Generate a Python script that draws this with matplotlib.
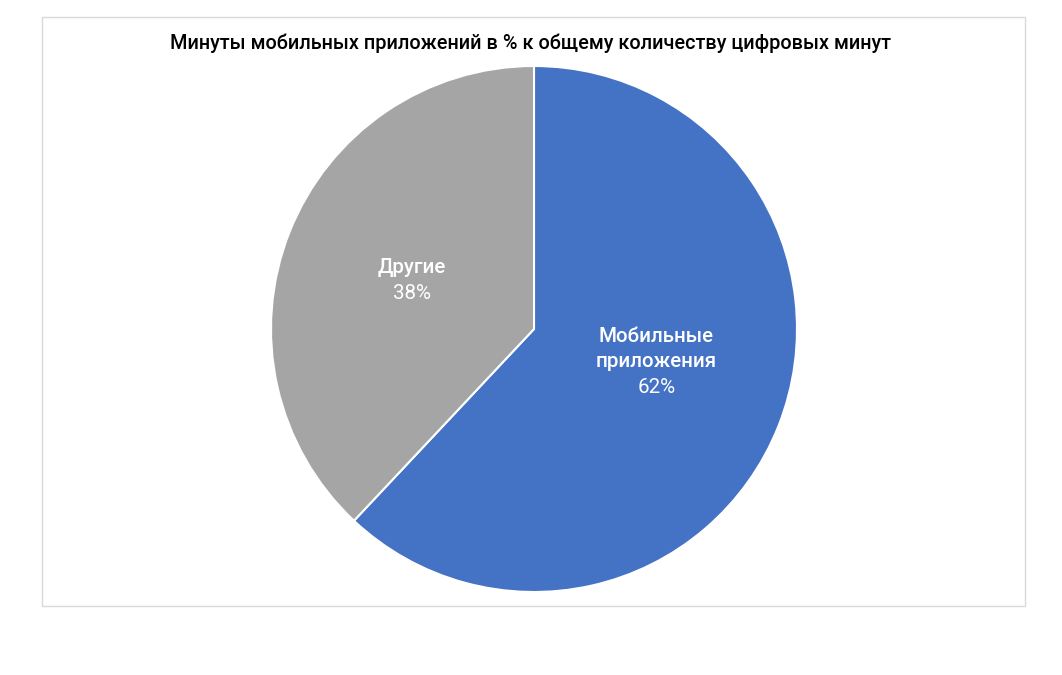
import numpy as np
import matplotlib
matplotlib.use("Agg")
import matplotlib.pyplot as plt
from matplotlib.patches import Rectangle

plt.rcParams['font.family'] = ['Roboto', 'DejaVu Sans']

title = "Минуты мобильных приложений в % к общему количеству цифровых минут"
categories = ["Мобильные\nприложения", "Другие"]
values = [62, 38]
colors = ["#4472C4", "#A5A5A5"]

W, H = 1062, 675
fig = plt.figure(figsize=(W / 100, H / 100), dpi=100)
fig.patch.set_facecolor("white")

# chart border
fig.patches.append(Rectangle((42 / W, 1 - 606 / H), (1025 - 42) / W, (606 - 17) / H,
                             transform=fig.transFigure, fill=False,
                             edgecolor="#D9D9D9", linewidth=1.0))

cx, cy, r = 534, 329, 263
ax = fig.add_axes([(cx - r) / W, (H - cy - r) / H, 2 * r / W, 2 * r / H])
wedges, _ = ax.pie(values, colors=colors, startangle=90, counterclock=False,
                   radius=1.0, wedgeprops=dict(edgecolor="white", linewidth=1.5))
ax.set_xlim(-1, 1)
ax.set_ylim(-1, 1)
ax.set_aspect("equal")
ax.axis("off")

pitch = 25.5 * 72 / 100  # line pitch in points
fs = 14.8
ls = 1.39
dy_adj = [0.06, 0.0]
for w, cat, v, dy in zip(wedges, categories, values, dy_adj):
    ang = np.deg2rad((w.theta1 + w.theta2) / 2)
    x = 0.5 * np.cos(ang)
    y = 0.5 * np.sin(ang) + dy
    n = cat.count("\n") + 2
    ax.annotate(cat, (x, y), xytext=(0, pitch / 2), textcoords="offset points",
                ha="center", va="center", color="white", fontsize=fs,
                fontweight="medium", linespacing=ls)
    ax.annotate(f"{v}%", (x, y), xytext=(0, -(n - 1) / 2 * pitch),
                textcoords="offset points", ha="center", va="center",
                color="white", fontsize=fs)

fig.text(531 / W, 1 - 43 / H, title, ha="center", va="center", fontsize=14.35,
         fontweight="medium", color="black")

fig.savefig("out.png", dpi=100)
